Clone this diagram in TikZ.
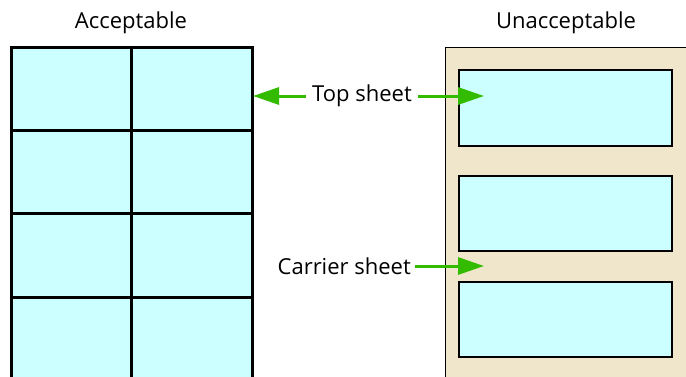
\documentclass[tikz,border=0pt]{standalone}
\usepackage{fontspec}
\setmainfont{Open Sans}
\usetikzlibrary{arrows.meta}
\definecolor{labelcyan}{HTML}{CCFFFF}
\definecolor{carrierbeige}{HTML}{EFE6CB}
\definecolor{arrowgreen}{HTML}{33BB00}
\tikzset{
  grid line/.style={line width=3pt},
  label box/.style={fill=labelcyan,draw=black,line width=2.5pt},
  green arrow/.style={arrowgreen,line width=3pt,-{Triangle[length=26pt,width=17pt]}},
  caption/.style={font=\fontsize{22}{24}\selectfont,inner sep=1pt}
}
\begin{document}
\begin{tikzpicture}[x=1pt,y=-1pt]
  \useasboundingbox (0,0) rectangle (686,376);
  \clip (0,0) rectangle (686,376);
  % acceptable sheet
  \fill[labelcyan] (11,47) rectangle (252,380);
  \draw[grid line] (11,380)--(11,47)--(252,47)--(252,380);
  \draw[grid line] (131,47)--(131,380);
  \foreach \y in {130,213,297} \draw[grid line] (11,\y)--(252,\y);
  % unacceptable sheet
  \fill[carrierbeige] (445,47) rectangle (690,380);
  \draw[line width=1pt] (445,380)--(445,47)--(690,47);
  \foreach \y/\h in {70/146,176/251,282/357} \draw[label box] (459,\y) rectangle (672,\h);
  % titles
  \node[caption] (acc) at (131,23) {Acceptable};
  \node[caption] (unacc) at (566,23) {Unacceptable};
  % pointers
  \node[caption] (top) at (362,96) {Top sheet};
  \node[caption,anchor=east] (carrier) at (412,266) {Carrier sheet};
  \coordinate (topL) at (253,96); \coordinate (topR) at (484,96);
  \coordinate (carR) at (484,266);
  \draw[green arrow] (top.west)++(-5,0)--(topL);
  \draw[green arrow] (top.east)++(5,0)--(topR);
  \draw[green arrow] (carrier.east)++(3,0)--(carR);
\end{tikzpicture}
\end{document}
